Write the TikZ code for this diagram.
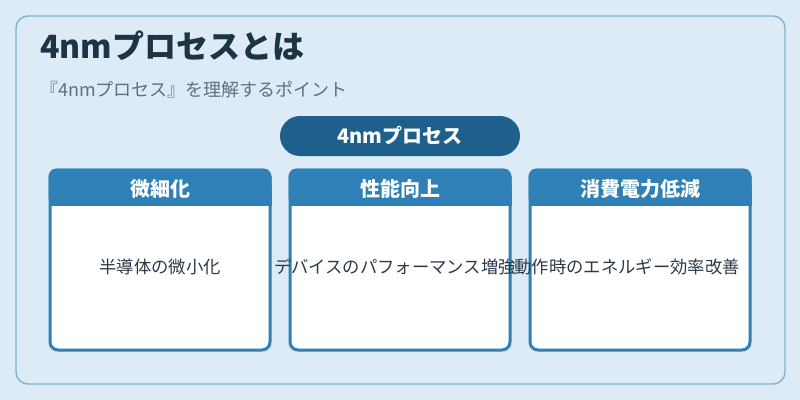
\documentclass[tikz,border=0pt]{standalone}
\usepackage{fontspec}
\setmainfont{Noto Sans CJK JP}
\definecolor{bgblue}{HTML}{DCEBF6}
\definecolor{frameline}{HTML}{7FB2D4}
\definecolor{titleink}{HTML}{1B3446}
\definecolor{subink}{HTML}{5D7282}
\definecolor{pillblue}{HTML}{1F5F8B}
\definecolor{hdrblue}{HTML}{2E80B6}
\definecolor{bodyink}{HTML}{2B3A48}

\begin{document}
\begin{tikzpicture}[x=0.75pt,y=-0.75pt]
\useasboundingbox[fill=bgblue] (0,0) rectangle (800,400);
\begin{scope}[every node/.style={inner sep=0pt},
              frame/.style={draw=frameline,line width=1.1pt,fill=bgblue,rounded corners=9pt,
                            minimum width=576.75pt,minimum height=276pt},
              pill/.style={fill=pillblue,rounded corners=15pt,minimum width=180pt,minimum height=30pt,
                           text=white,font=\bfseries\fontsize{15pt}{18pt}\selectfont},
              card/.style={draw=hdrblue,line width=2.25pt,fill=white,rounded corners=6pt,
                           minimum width=165pt,minimum height=135pt},
              head_text/.style={text=white,font=\bfseries\fontsize{15pt}{18pt}\selectfont},
              body_text/.style={text=bodyink,font=\fontsize{13pt}{16pt}\selectfont}]
    \node[frame] (frame) at (400.5,200) {};
    \node[anchor=base west,text=titleink,font=\bfseries\fontsize{24pt}{28pt}\selectfont]
        (title) at (40,58) {4nmプロセスとは};
    \node[anchor=base west,text=subink,font=\fontsize{13.5pt}{16pt}\selectfont]
        (subtitle) at (40,96) {『4nmプロセス』を理解するポイント};
    \node[pill] (pill) at (400,136) {4nmプロセス};
    \node[card] (c1) at (160,260) {};
    \node[card] (c2) at (400,260) {};
    \node[card] (c3) at (640,260) {};
    % header bands
    \fill[hdrblue,rounded corners=6pt] (c1.north west) rectangle ([yshift=-27.75pt]c1.north east);
    \fill[hdrblue] ([yshift=-15pt]c1.north west) rectangle ([yshift=-27.75pt]c1.north east);
    \fill[hdrblue,rounded corners=6pt] (c2.north west) rectangle ([yshift=-27.75pt]c2.north east);
    \fill[hdrblue] ([yshift=-15pt]c2.north west) rectangle ([yshift=-27.75pt]c2.north east);
    \fill[hdrblue,rounded corners=6pt] (c3.north west) rectangle ([yshift=-27.75pt]c3.north east);
    \fill[hdrblue] ([yshift=-15pt]c3.north west) rectangle ([yshift=-27.75pt]c3.north east);
    \node[head_text] (h1) at (160,189) {微細化};
    \node[head_text] (h2) at (400,189) {性能向上};
    \node[head_text] (h3) at (640,189) {消費電力低減};
    \node[body_text] (b1) at (160,267) {半導体の微小化};
    \node[body_text] (b2) at (395,267) {デバイスのパフォーマンス増強};
    \node[body_text] (b3) at (627,267) {動作時のエネルギー効率改善};
\end{scope}
\end{tikzpicture}
\end{document}
